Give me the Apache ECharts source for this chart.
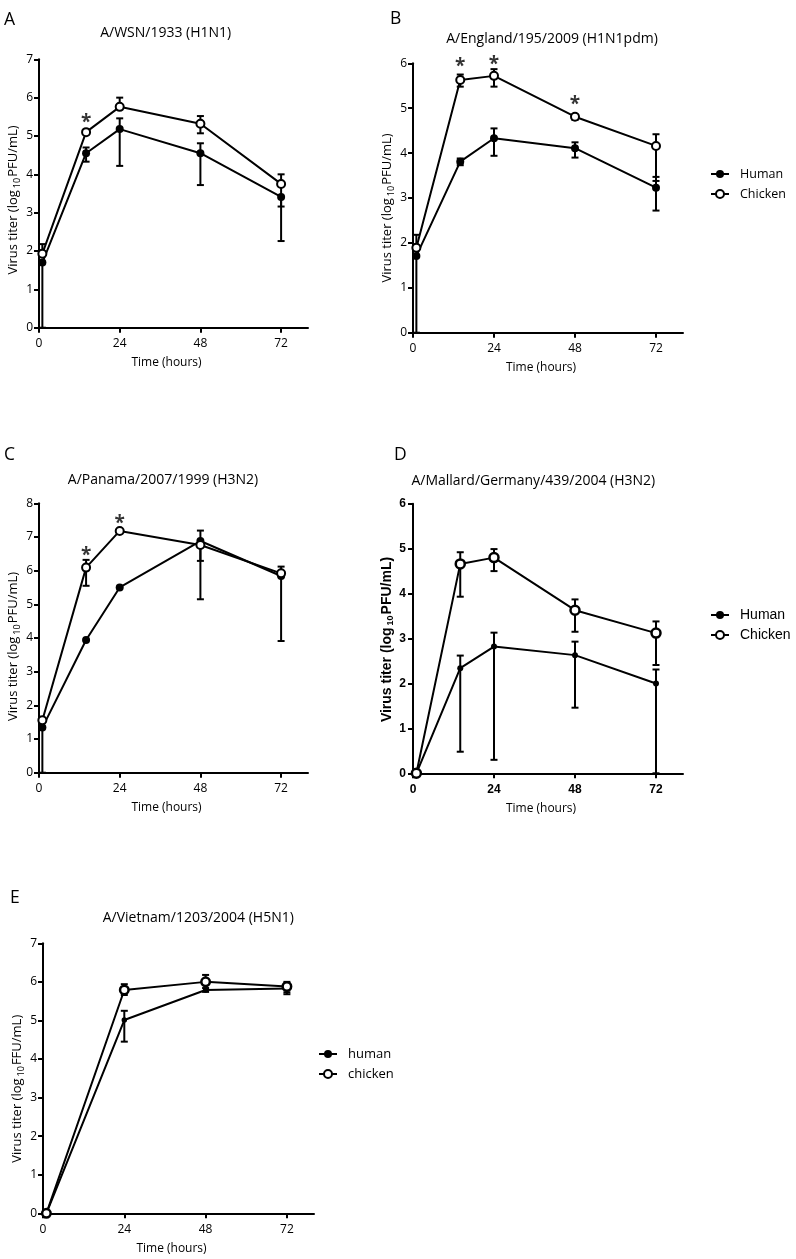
<!DOCTYPE html>
<html><head><meta charset="utf-8">
<script src="https://cdn.jsdelivr.net/npm/echarts@6/dist/echarts.min.js"></script>
<style>html,body{margin:0;padding:0;background:#fff}#chart{width:796px;height:1259px}</style>
</head><body><div id="chart"></div>
<script>
// ---------- data ----------
const hoursAD = [1, 14, 24, 48, 72];
const hoursE = [1, 24, 48, 72];
const xTickValues = [0, 24, 48, 72];

// Panel A  A/WSN/1933 (H1N1)
const aHuman = [1.70, 4.55, 5.18, 4.55, 3.41];
const aHumanLow = [0.00, 4.33, 4.22, 3.72, 2.26];
const aHumanHigh = [1.70, 4.70, 5.46, 4.81, 3.41];
const aChicken = [1.93, 5.10, 5.76, 5.32, 3.75];
const aChickenLow = [1.93, 5.10, 5.76, 5.07, 3.16];
const aChickenHigh = [2.18, 5.10, 6.00, 5.52, 4.00];
const aStarHours = [14];
const aStarLevels = [5.46];

// Panel B  A/England/195/2009 (H1N1pdm)
const bHuman = [1.71, 3.81, 4.33, 4.11, 3.23];
const bHumanLow = [0.00, 3.73, 3.94, 3.90, 2.72];
const bHumanHigh = [1.71, 3.88, 4.55, 4.24, 3.47];
const bChicken = [1.89, 5.63, 5.72, 4.81, 4.16];
const bChickenLow = [1.89, 5.48, 5.48, 4.74, 3.38];
const bChickenHigh = [2.18, 5.75, 5.87, 4.86, 4.42];
const bStarHours = [14, 24, 48];
const bStarLevels = [6.01, 6.07, 5.18];

// Panel C  A/Panama/2007/1999 (H3N2)
const cHuman = [1.34, 3.94, 5.50, 6.88, 5.84];
const cHumanLow = [0.00, 3.94, 5.50, 6.29, 3.91];
const cHumanHigh = [1.34, 3.94, 5.50, 7.19, 5.84];
const cChicken = [1.56, 6.09, 7.18, 6.76, 5.92];
const cChickenLow = [1.56, 5.55, 7.18, 5.15, 5.92];
const cChickenHigh = [1.56, 6.32, 7.18, 6.76, 6.12];
const cStarHours = [14, 24];
const cStarLevels = [6.56, 7.52];

// Panel D  A/Mallard/Germany/439/2004 (H3N2)
const dHuman = [0.00, 2.34, 2.82, 2.63, 2.00];
const dHumanLow = [0.00, 0.48, 0.30, 1.46, 0.00];
const dHumanHigh = [0.00, 2.62, 3.13, 2.93, 2.31];
const dChicken = [0.00, 4.66, 4.80, 3.63, 3.12];
const dChickenLow = [0.00, 3.93, 4.50, 3.15, 2.41];
const dChickenHigh = [0.00, 4.92, 4.99, 3.87, 3.38];

// Panel E  A/Vietnam/1203/2004 (H5N1)
const eHuman = [0.00, 5.01, 5.79, 5.83];
const eHumanLow = [0.00, 4.45, 5.74, 5.73];
const eHumanHigh = [0.00, 5.25, 5.84, 5.83];
const eChicken = [0.00, 5.79, 6.00, 5.88];
const eChickenLow = [0.00, 5.66, 6.00, 5.68];
const eChickenHigh = [0.00, 5.94, 6.18, 6.00];

const titles = ['A/WSN/1933 (H1N1)', 'A/England/195/2009 (H1N1pdm)', 'A/Panama/2007/1999 (H3N2)',
  'A/Mallard/Germany/439/2004 (H3N2)', 'A/Vietnam/1203/2004 (H5N1)'];
const letters = ['A', 'B', 'C', 'D', 'E'];
const yMaxes = [7, 6, 8, 6, 7];

// ---------- styling / layout ----------
const SANS = "'Open Sans', sans-serif";
const ARIAL = "'Liberation Sans', Arial, sans-serif";
const grids = [
  {left: 39, top: 59.3, width: 269, height: 268.4},
  {left: 413, top: 63.3, width: 270, height: 269.4},
  {left: 39, top: 503.3, width: 269, height: 269.4},
  {left: 413, top: 503.7, width: 270, height: 269.6},
  {left: 43, top: 943.3, width: 271, height: 270}
];
const titlePos = [[165.7, 33.3], [552, 39.3], [163, 480], [533.3, 481], [198.3, 918.3]];
const letterPos = [[4, 20], [390, 19.5], [4, 454.7], [394, 454.7], [10, 898.5]];
const yNameShift = [13, 20, 17, 2, 21];

function errorSeries(gi, name, hours, mean, low, high, capW, lw) {
  return {
    type: 'custom', name: name + ' err', xAxisIndex: gi, yAxisIndex: gi, z: 1, silent: true, clip: false,
    data: hours.map((h, i) => [h, mean[i], low[i], high[i]]),
    encode: {x: 0, y: [1, 2, 3]},
    renderItem(params, api) {
      const t = api.value(0), m = api.value(1);
      const pm = api.coord([t, m]);
      const st = {stroke: '#000', lineWidth: lw};
      const children = [];
      [api.value(2), api.value(3)].forEach(v => {
        if (Math.abs(v - m) < 1e-9) return;
        const p = api.coord([t, v]);
        children.push({type: 'line', shape: {x1: pm[0], y1: pm[1], x2: p[0], y2: p[1]}, style: st});
        children.push({type: 'line', shape: {x1: p[0] - capW / 2, y1: p[1], x2: p[0] + capW / 2, y2: p[1]}, style: st});
      });
      return {type: 'group', children};
    }
  };
}

function lineSeries(gi, name, hours, mean, filled, size, bw) {
  return {
    type: 'line', name, xAxisIndex: gi, yAxisIndex: gi, z: 3, clip: false,
    data: hours.map((h, i) => [h, mean[i]]),
    symbol: 'circle', symbolSize: size,
    lineStyle: {color: '#000', width: 2},
    itemStyle: filled ? {color: '#000', borderColor: '#000', borderWidth: 0}
                      : {color: '#fff', borderColor: '#000', borderWidth: bw},
    emphasis: {disabled: true}
  };
}

function starSeries(gi, hours, levels) {
  return {
    type: 'scatter', xAxisIndex: gi, yAxisIndex: gi, z: 5, silent: true, clip: false,
    data: hours.map((h, i) => [h, levels[i]]),
    symbolSize: 1, itemStyle: {color: 'rgba(0,0,0,0)'},
    label: {show: true, position: 'inside', formatter: '*', fontSize: 19, fontWeight: 'bold',
      fontFamily: SANS, color: '#000', offset: [0, 4]}
  };
}

const xAxes = [], yAxes = [];
grids.forEach((g, i) => {
  const bold = i === 3;
  const fam = bold ? ARIAL : SANS;
  const labelFont = {fontSize: 12, fontFamily: fam, fontWeight: bold ? 'bold' : 'normal', color: '#000'};
  const unit = i === 4 ? 'FFU/mL)' : 'PFU/mL)';
  const nameSize = bold ? 14 : 13;
  xAxes.push({
    type: 'value', gridIndex: i, min: 0, max: 80, interval: 24,
    axisLine: {show: true, onZero: false, lineStyle: {color: '#000', width: 2}},
    axisTick: {show: true, length: 5, lineStyle: {color: '#000', width: 2}, customValues: xTickValues},
    axisLabel: Object.assign({customValues: xTickValues, margin: 10, formatter: v => (v === 80 ? '' : v)}, labelFont),
    splitLine: {show: false},
    name: 'Time (hours)', nameLocation: 'middle', nameGap: 29,
    nameTextStyle: {fontSize: 12, fontFamily: SANS, color: '#000', padding: [0, 14, 0, 0]}
  });
  yAxes.push({
    type: 'value', gridIndex: i, min: 0, max: yMaxes[i], interval: 1,
    axisLine: {show: true, onZero: false, lineStyle: {color: '#000', width: 2}},
    axisTick: {show: true, length: 5, lineStyle: {color: '#000', width: 2}},
    axisLabel: Object.assign({margin: bold ? 7 : 6}, labelFont),
    splitLine: {show: false},
    name: '{n|Virus titer (log}{s|10}{n|' + unit + '}',
    nameLocation: 'middle', nameGap: 16,
    nameTextStyle: {
      padding: [0, yNameShift[i], 0, 0],
      rich: {
        n: {fontSize: nameSize, fontFamily: fam, fontWeight: bold ? 'bold' : 'normal', color: '#000'},
        s: {fontSize: 9, fontFamily: fam, fontWeight: bold ? 'bold' : 'normal', color: '#000', padding: [8, 1, 0, 2]}
      }
    }
  });
});

const series = [
  // A
  errorSeries(0, 'A|Human', hoursAD, aHuman, aHumanLow, aHumanHigh, 7, 2),
  errorSeries(0, 'A|Chicken', hoursAD, aChicken, aChickenLow, aChickenHigh, 7, 2),
  lineSeries(0, 'A|Human', hoursAD, aHuman, true, 8, 0),
  lineSeries(0, 'A|Chicken', hoursAD, aChicken, false, 8, 2),
  starSeries(0, aStarHours, aStarLevels),
  // B
  errorSeries(1, 'B|Human', hoursAD, bHuman, bHumanLow, bHumanHigh, 7, 2),
  errorSeries(1, 'B|Chicken', hoursAD, bChicken, bChickenLow, bChickenHigh, 7, 2),
  lineSeries(1, 'B|Human', hoursAD, bHuman, true, 8, 0),
  lineSeries(1, 'B|Chicken', hoursAD, bChicken, false, 8, 2),
  starSeries(1, bStarHours, bStarLevels),
  // C
  errorSeries(2, 'C|Human', hoursAD, cHuman, cHumanLow, cHumanHigh, 7, 2),
  errorSeries(2, 'C|Chicken', hoursAD, cChicken, cChickenLow, cChickenHigh, 7, 2),
  lineSeries(2, 'C|Human', hoursAD, cHuman, true, 8, 0),
  lineSeries(2, 'C|Chicken', hoursAD, cChicken, false, 8, 2),
  starSeries(2, cStarHours, cStarLevels),
  // D
  errorSeries(3, 'D|Human', hoursAD, dHuman, dHumanLow, dHumanHigh, 7, 2),
  errorSeries(3, 'D|Chicken', hoursAD, dChicken, dChickenLow, dChickenHigh, 7, 2),
  lineSeries(3, 'D|Human', hoursAD, dHuman, true, 6, 0),
  lineSeries(3, 'D|Chicken', hoursAD, dChicken, false, 9, 2.5),
  // E
  errorSeries(4, 'E|human', hoursE, eHuman, eHumanLow, eHumanHigh, 7, 2),
  errorSeries(4, 'E|chicken', hoursE, eChicken, eChickenLow, eChickenHigh, 7, 2),
  lineSeries(4, 'E|human', hoursE, eHuman, true, 5.5, 0),
  lineSeries(4, 'E|chicken', hoursE, eChicken, false, 8.5, 2.5)
];

function legendFor(names, left, top, fam, size) {
  return {
    orient: 'vertical', left, top, padding: 0, itemWidth: 18, itemHeight: 10, itemGap: 6, selectedMode: false,
    data: names, formatter: n => n.split('|')[1],
    textStyle: {fontFamily: fam, fontSize: size, color: '#000', padding: [0, 0, 0, 6], lineHeight: 14}
  };
}

const graphic = [];
titles.forEach((t, i) => {
  graphic.push({type: 'text', x: titlePos[i][0], y: titlePos[i][1], silent: true,
    style: {text: t, fontSize: 14, fontFamily: SANS, fill: '#000', align: 'center', verticalAlign: 'middle'}});
  graphic.push({type: 'text', x: letterPos[i][0], y: letterPos[i][1], silent: true,
    style: {text: letters[i], fontSize: 17.5, fontFamily: SANS, fill: '#000', align: 'left', verticalAlign: 'middle'}});
});

const chart = echarts.init(document.getElementById('chart'), null, {renderer: 'canvas'});
chart.setOption({
  animation: false,
  backgroundColor: '#fff',
  grid: grids.map(g => Object.assign({containLabel: false}, g)),
  xAxis: xAxes,
  yAxis: yAxes,
  legend: [
    legendFor(['B|Human', 'B|Chicken'], 710, 167, SANS, 12.5),
    legendFor(['D|Human', 'D|Chicken'], 710, 608, ARIAL, 14),
    legendFor(['E|human', 'E|chicken'], 318, 1047, SANS, 13)
  ],
  graphic,
  series
});
</script></body></html>
